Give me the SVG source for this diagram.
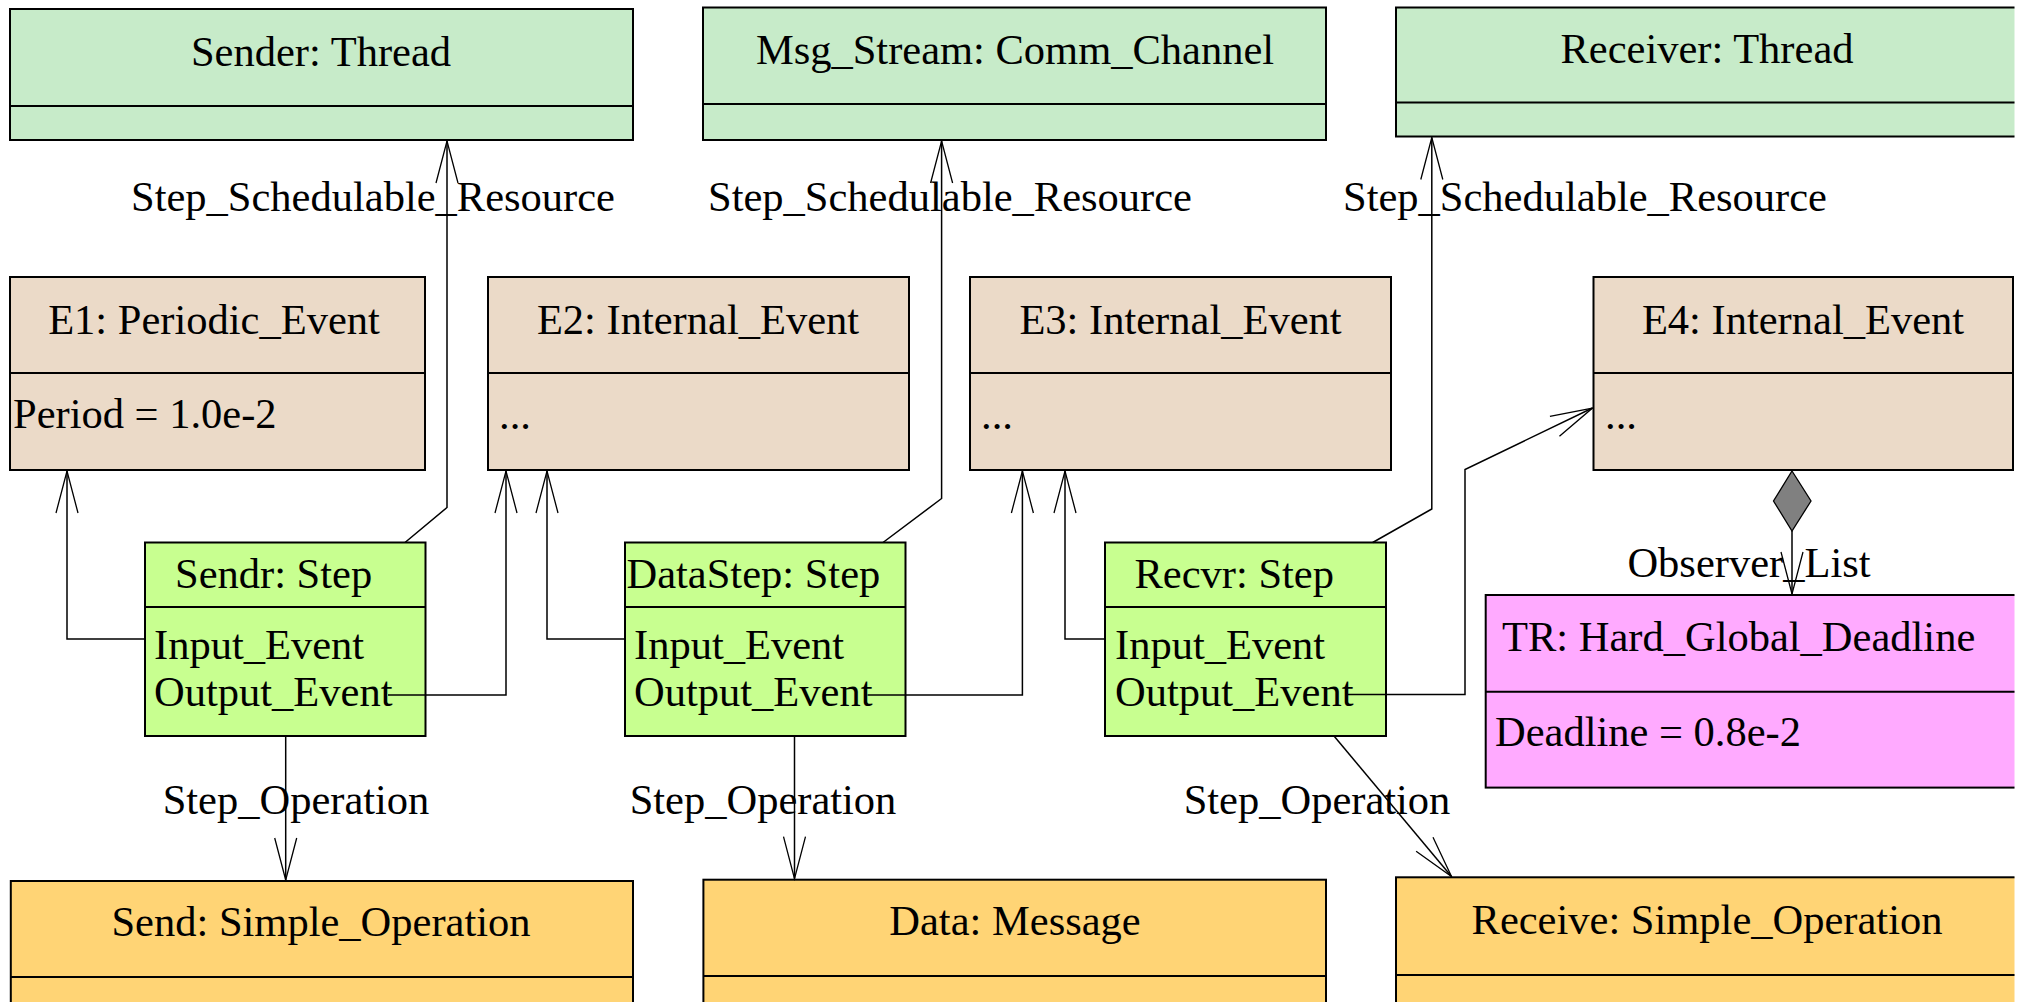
<svg xmlns="http://www.w3.org/2000/svg" width="2022" height="1002" viewBox="0 0 2022 1002">
  <style>
    .box { stroke: #000; stroke-width: 2; }
    .div { stroke: #000; stroke-width: 2; fill: none; }
    .thread { fill: #C7EBC9; }
    .event { fill: #EBDAC8; }
    .step { fill: #C8FF90; }
    .req { fill: #FFAAFF; }
    .op { fill: #FFD475; }
    text { font-family: "Liberation Serif", "Times New Roman", serif; font-size: 42.5px; fill: #000; }
    .mid { text-anchor: middle; }
    .conn { fill: none; stroke: #000; stroke-width: 1.5; }
  </style>
  <defs>
    <marker id="open" markerUnits="userSpaceOnUse" viewBox="-44 -13 46 26" markerWidth="46" markerHeight="26" refX="0" refY="0" orient="auto">
      <path d="M-42,-11 L0,0 L-42,11" fill="none" stroke="#000" stroke-width="1.3"/>
    </marker>
    <clipPath id="page">
      <rect x="0" y="0" width="2014.5" height="1002"/>
    </clipPath>
  </defs>
  <rect width="2022" height="1002" fill="#fff"/>
  <g clip-path="url(#page)" font-family="'Liberation Serif', 'Times New Roman', serif">
    <!-- threads and channel -->
    <g id="sender">
      <rect class="box thread" x="10" y="9" width="623" height="131"/>
      <line class="div" x1="10" y1="106" x2="633" y2="106"/>
      <text class="mid" x="321" y="66">Sender: Thread</text>
    </g>
    <g id="msg_stream">
      <rect class="box thread" x="703" y="7.5" width="623" height="132.5"/>
      <line class="div" x1="703" y1="104" x2="1326" y2="104"/>
      <text class="mid" x="1015" y="64">Msg_Stream: Comm_Channel</text>
    </g>
    <g id="receiver">
      <rect class="box thread" x="1396" y="7.5" width="623" height="129"/>
      <line class="div" x1="1396" y1="102.5" x2="2019" y2="102.5"/>
      <text class="mid" x="1707" y="63">Receiver: Thread</text>
    </g>

    <!-- events -->
    <g id="e1">
      <rect class="box event" x="10" y="277" width="415" height="193"/>
      <line class="div" x1="10" y1="373" x2="425" y2="373"/>
      <text class="mid" x="214" y="334">E1: Periodic_Event</text>
      <text x="13" y="428">Period = 1.0e-2</text>
    </g>
    <g id="e2">
      <rect class="box event" x="488" y="277" width="421" height="193"/>
      <line class="div" x1="488" y1="373" x2="909" y2="373"/>
      <text class="mid" x="698" y="334">E2: Internal_Event</text>
      <text x="499" y="429">...</text>
    </g>
    <g id="e3">
      <rect class="box event" x="970" y="277" width="421" height="193"/>
      <line class="div" x1="970" y1="373" x2="1391" y2="373"/>
      <text class="mid" x="1180.5" y="334">E3: Internal_Event</text>
      <text x="981" y="429">...</text>
    </g>
    <g id="e4">
      <rect class="box event" x="1593.5" y="277" width="419.5" height="193"/>
      <line class="div" x1="1593.5" y1="373" x2="2013" y2="373"/>
      <text class="mid" x="1803" y="333.5">E4: Internal_Event</text>
      <text x="1605" y="429">...</text>
    </g>

    <!-- steps -->
    <g id="sendr">
      <rect class="box step" x="145" y="542.5" width="280.5" height="193.5"/>
      <line class="div" x1="145" y1="607" x2="425.5" y2="607"/>
      <text x="175" y="588">Sendr: Step</text>
      <text x="154" y="659">Input_Event</text>
      <text x="154" y="705.5">Output_Event</text>
    </g>
    <g id="datastep">
      <rect class="box step" x="625" y="542.5" width="280.5" height="193.5"/>
      <line class="div" x1="625" y1="607" x2="905.5" y2="607"/>
      <text x="626.5" y="588">DataStep: Step</text>
      <text x="634" y="659">Input_Event</text>
      <text x="634" y="705.5">Output_Event</text>
    </g>
    <g id="recvr">
      <rect class="box step" x="1105" y="542.5" width="281" height="193.5"/>
      <line class="div" x1="1105" y1="607" x2="1386" y2="607"/>
      <text x="1134.5" y="588">Recvr: Step</text>
      <text x="1115" y="659">Input_Event</text>
      <text x="1115" y="705.5">Output_Event</text>
    </g>

    <!-- timing requirement -->
    <g id="tr">
      <rect class="box req" x="1485.7" y="595" width="545" height="192.6"/>
      <line class="div" x1="1485.7" y1="691.7" x2="2030" y2="691.7"/>
      <text x="1502" y="651">TR: Hard_Global_Deadline</text>
      <text x="1495" y="746">Deadline = 0.8e-2</text>
    </g>

    <!-- operations -->
    <g id="send">
      <rect class="box op" x="10.8" y="881" width="622.2" height="130"/>
      <line class="div" x1="10.8" y1="977" x2="633" y2="977"/>
      <text class="mid" x="321" y="936">Send: Simple_Operation</text>
    </g>
    <g id="data">
      <rect class="box op" x="703.4" y="879.7" width="622.6" height="131"/>
      <line class="div" x1="703.4" y1="976" x2="1326" y2="976"/>
      <text class="mid" x="1015" y="935">Data: Message</text>
    </g>
    <g id="receive">
      <rect class="box op" x="1396" y="877.3" width="623" height="133"/>
      <line class="div" x1="1396" y1="975" x2="2019" y2="975"/>
      <text class="mid" x="1707" y="934.3">Receive: Simple_Operation</text>
    </g>

    <!-- connectors -->
    <g id="connectors">
      <polyline class="conn" points="405,542.5 447,507.5 447,141" marker-end="url(#open)"/>
      <polyline class="conn" points="883,542.5 941.6,498.5 941.6,141" marker-end="url(#open)"/>
      <polyline class="conn" points="1372.7,542.5 1431.8,509 1431.8,137.5" marker-end="url(#open)"/>

      <polyline class="conn" points="145,639 67,639 67,471" marker-end="url(#open)"/>
      <polyline class="conn" points="388,695 506,695 506,471" marker-end="url(#open)"/>
      <polyline class="conn" points="625,639 547,639 547,471" marker-end="url(#open)"/>
      <polyline class="conn" points="867.5,695 1022.4,695 1022.4,471" marker-end="url(#open)"/>
      <polyline class="conn" points="1105,639 1065,639 1065,471" marker-end="url(#open)"/>
      <polyline class="conn" points="1348,694.5 1465,694.5 1465,469.5 1592.5,408" marker-end="url(#open)"/>

      <polyline class="conn" points="285.7,736 285.7,880" marker-end="url(#open)"/>
      <polyline class="conn" points="794.5,736 794.5,878.7" marker-end="url(#open)"/>
      <polyline class="conn" points="1334,736 1451.5,876.5" marker-end="url(#open)"/>

      <polygon points="1792,471 1811,501 1792,531 1773.5,501" fill="#808080" stroke="#000" stroke-width="1.3"/>
      <polyline class="conn" points="1792,531 1792,594" marker-end="url(#open)"/>

      <text class="mid" x="373" y="211">Step_Schedulable_Resource</text>
      <text class="mid" x="950" y="211">Step_Schedulable_Resource</text>
      <text class="mid" x="1585" y="211">Step_Schedulable_Resource</text>
      <text class="mid" x="296" y="814">Step_Operation</text>
      <text class="mid" x="763" y="814">Step_Operation</text>
      <text class="mid" x="1317" y="814">Step_Operation</text>
      <text class="mid" x="1749" y="577">Observer_List</text>
    </g>
  </g>
</svg>
